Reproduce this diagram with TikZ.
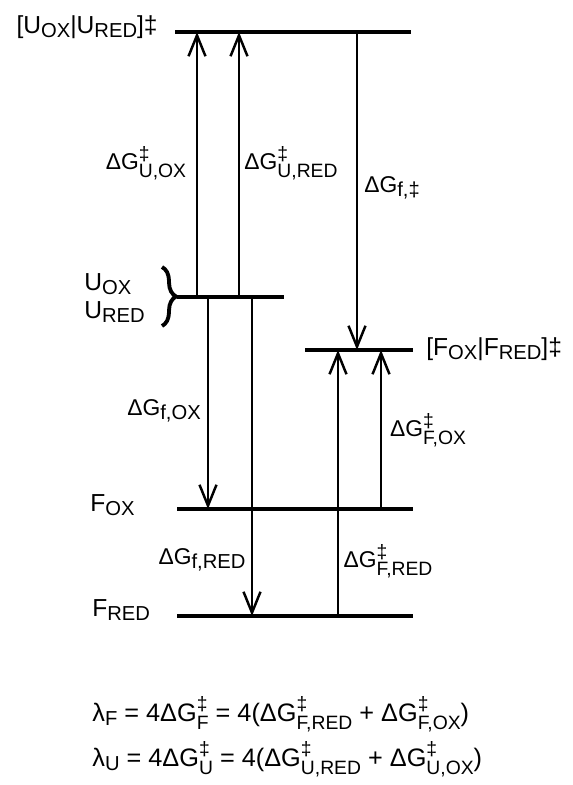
\documentclass[tikz,border=0pt]{standalone}
\usepackage{fontspec}
\setmainfont{Liberation Sans}
\usetikzlibrary{arrows.meta,decorations.pathreplacing}
\newcommand{\lsub}[1]{\raisebox{-0.3ex}{\fontsize{11.5}{12}\selectfont #1}}
\newcommand{\tsub}[1]{\rlap{\raisebox{0.8ex}{\fontsize{11}{12}\selectfont ‡}}\raisebox{-0.6ex}{\fontsize{11}{12}\selectfont #1}}
\begin{document}
\begin{tikzpicture}[x=0.02cm, y=-0.02cm,
    nivel/.style={line width=1.8pt},
    flecha/.style={line width=1.4pt, -{Straight Barb[length=0.42cm,width=0.34cm,line width=1.4pt]}},
    etiq/.style={font=\fontsize{14}{16}\selectfont, inner sep=0pt},
    dg/.style={font=\fontsize{13}{15}\selectfont, inner sep=0pt}]
    \useasboundingbox (0,0) rectangle (572,785);
    % Niveles
    \coordinate (TS) at (175,32);   \coordinate (TSe) at (411,32);
    \coordinate (U) at (177,297);   \coordinate (Ue) at (284,297);
    \coordinate (FTS) at (305,350); \coordinate (FTSe) at (413,350);
    \coordinate (FOX) at (177,509); \coordinate (FOXe) at (413,509);
    \coordinate (FRED) at (177,616); \coordinate (FREDe) at (413,616);
    \foreach \a/\b in {TS/TSe, U/Ue, FTS/FTSe, FOX/FOXe, FRED/FREDe}
        \draw[nivel] (\a) -- (\b);
    % Flechas
    \foreach \x/\de/\a in {197/U/TS, 239/U/TS, 357/TS/FTS, 208/U/FOX, 252/U/FRED, 338/FRED/FTS, 381/FOX/FTS}
        \draw[flecha] (\x,0 |- \de) -- (\x,0 |- \a);
    % Llave
    \draw[line width=2.2pt, decorate, decoration={brace, amplitude=8pt}] (162,267) -- (162,326);
    % Etiquetas de niveles
    \node[etiq, anchor=east] (lTS) at (158,27) {[U\lsub{OX}|U\lsub{RED}]‡};
    \node[etiq, anchor=west, align=left] (lU) at (84,298) {U\lsub{OX}\\U\lsub{RED}};
    \node[etiq, anchor=west] (lFTS) at (426,349) {[F\lsub{OX}|F\lsub{RED}]‡};
    \node[etiq, anchor=west] (lFOX) at (90,505) {F\lsub{OX}};
    \node[etiq, anchor=west] (lFRED) at (92,610) {F\lsub{RED}};
    % Etiquetas de flechas
    \node[dg] (gUOX) at (146,163) {ΔG\tsub{U,OX}};
    \node[dg] (gURED) at (291,163) {ΔG\tsub{U,RED}};
    \node[dg] (gfTS) at (392,188) {ΔG\lsub{f,‡}};
    \node[dg] (gfOX) at (164,411) {ΔG\lsub{f,OX}};
    \node[dg] (gFOX) at (428,430) {ΔG\tsub{F,OX}};
    \node[dg] (gfRED) at (202,560) {ΔG\lsub{f,RED}};
    \node[dg] (gFRED) at (388,561) {ΔG\tsub{F,RED}};
    % Ecuaciones
    \node[etiq, font=\fontsize{14.4}{16}\selectfont, anchor=base west] (eqF) at (92,721) {λ\lsub{F} = 4ΔG\tsub{F} = 4(ΔG\tsub{F,RED} + ΔG\tsub{F,OX})};
    \node[etiq, font=\fontsize{14.4}{16}\selectfont, anchor=base west] (eqU) at (92,766) {λ\lsub{U} = 4ΔG\tsub{U} = 4(ΔG\tsub{U,RED} + ΔG\tsub{U,OX})};
\end{tikzpicture}
\end{document}
